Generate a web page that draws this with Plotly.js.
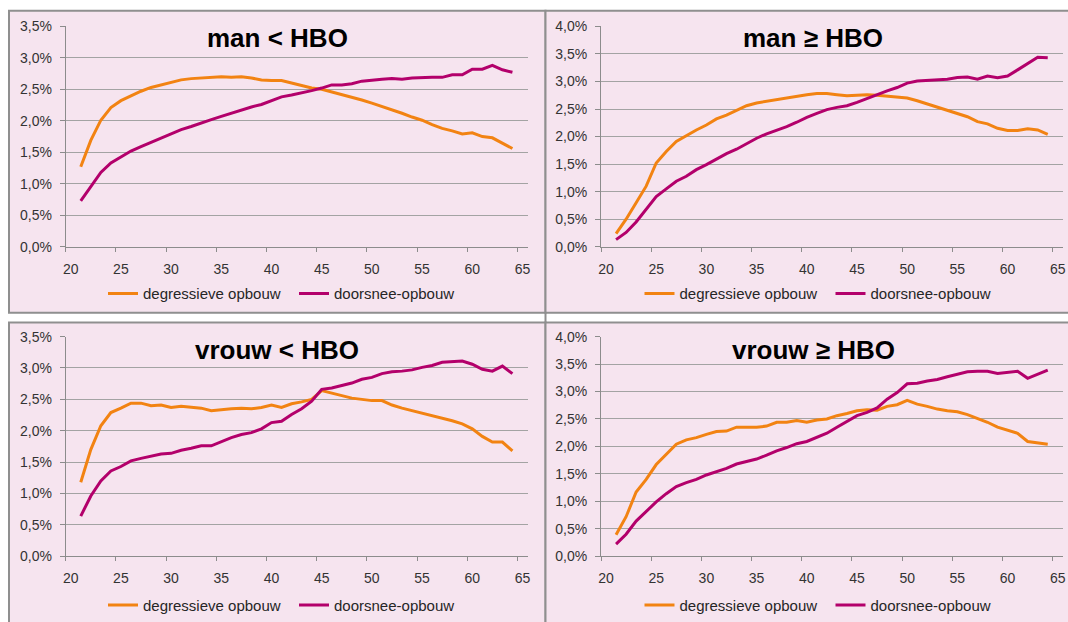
<!DOCTYPE html>
<html><head><meta charset="utf-8">
<script src="https://cdn.plot.ly/plotly-3.0.1.min.js"></script>
<style>html,body{margin:0;padding:0;background:#fff;} #chart{width:1068px;height:622px;}</style>
</head><body><div id="chart"></div>
<script>
// ---- data ----
const ages = [21,22,23,24,25,26,27,28,29,30,31,32,33,34,35,36,37,38,39,40,41,42,43,44,45,46,47,48,49,50,51,52,53,54,55,56,57,58,59,60,61,62,63,64];
const xTickLabels = ['20','25','30','35','40','45','50','55','60','65'];
const seriesNames = ['degressieve opbouw','doorsnee-opbouw'];
const panelTitles = ['man &lt; HBO','man ≥ HBO','vrouw &lt; HBO','vrouw ≥ HBO'];

const manLowDegr = [1.27,1.69,2.01,2.21,2.32,2.40,2.47,2.53,2.57,2.61, 2.65,2.67,2.68,2.70,2.70,2.69,2.70,2.68,2.65,2.64, 2.64,2.60,2.56,2.52,2.50,2.46,2.41,2.37,2.33,2.28, 2.23,2.17,2.12,2.06,2.01,1.94,1.88,1.84,1.79,1.81, 1.75,1.73,1.65,1.56];
const manLowDoor = [0.73,0.96,1.18,1.33,1.43,1.52,1.59,1.66,1.73,1.80, 1.86,1.91,1.97,2.02,2.07,2.12,2.18,2.22,2.26,2.32, 2.38,2.41,2.44,2.48,2.52,2.57,2.57,2.59,2.63,2.65, 2.66,2.67,2.66,2.68,2.69,2.69,2.69,2.73,2.73,2.82, 2.82,2.88,2.81,2.77];
const manHighDegr = [0.24,0.50,0.80,1.10,1.52,1.73,1.91,2.02,2.12,2.21, 2.32,2.39,2.48,2.56,2.61,2.64,2.68,2.70,2.73,2.76, 2.78,2.78,2.76,2.74,2.75,2.76,2.75,2.73,2.71,2.70, 2.65,2.59,2.53,2.47,2.42,2.36,2.27,2.23,2.15,2.11, 2.11,2.14,2.12,2.04];
const manHighDoor = [0.13,0.26,0.45,0.68,0.91,1.05,1.19,1.28,1.40,1.49, 1.59,1.69,1.77,1.87,1.97,2.05,2.11,2.18,2.26,2.35, 2.42,2.49,2.53,2.56,2.62,2.69,2.77,2.83,2.89,2.97, 3.01,3.02,3.03,3.04,3.07,3.08,3.04,3.10,3.07,3.10, 3.21,3.33,3.44,3.43];
const vrouwLowDegr = [1.18,1.70,2.08,2.29,2.36,2.44,2.44,2.40,2.41,2.37, 2.39,2.37,2.36,2.32,2.34,2.35,2.36,2.35,2.37,2.41, 2.37,2.43,2.46,2.50,2.64,2.60,2.56,2.52,2.50,2.48, 2.48,2.41,2.36,2.32,2.29,2.24,2.21,2.16,2.11,2.03, 1.91,1.82,1.82,1.68];
const vrouwLowDoor = [0.64,0.96,1.20,1.36,1.43,1.52,1.56,1.59,1.63,1.64, 1.69,1.72,1.76,1.76,1.83,1.89,1.94,1.97,2.03,2.13, 2.15,2.26,2.35,2.47,2.66,2.68,2.72,2.76,2.82,2.85, 2.91,2.94,2.95,2.97,3.01,3.04,3.09,3.10,3.11,3.06, 2.98,2.95,3.03,2.91];
const vrouwHighDegr = [0.39,0.72,1.17,1.40,1.67,1.85,2.04,2.12,2.16,2.22, 2.27,2.28,2.35,2.35,2.35,2.37,2.44,2.44,2.47,2.44, 2.48,2.50,2.56,2.60,2.65,2.67,2.66,2.73,2.76,2.84, 2.77,2.73,2.68,2.65,2.63,2.58,2.51,2.44,2.35,2.30, 2.24,2.09,2.07,2.04];
const vrouwHighDoor = [0.22,0.40,0.64,0.81,0.99,1.14,1.27,1.34,1.40,1.48, 1.54,1.60,1.68,1.72,1.77,1.84,1.92,1.98,2.05,2.09, 2.16,2.24,2.35,2.45,2.56,2.62,2.70,2.86,2.98,3.14, 3.15,3.19,3.22,3.27,3.32,3.36,3.37,3.37,3.33,3.35, 3.37,3.24,3.32,3.39];
const yMax = [3.5, 4.0, 3.5, 4.0];

// ---- layout helpers ----
const W = 1068, H = 622;
const px = x => x / W;
const py = y => 1 - y / H;
const ORANGE = '#f28312', MAGENTA = '#b3006b';
const FONT = 'Liberation Sans, Arial, sans-serif';

const panels = [
  {deg: manLowDegr, door: manLowDoor, box: [9, 11, 545.5, 316.7], plot: [65.7, 26.7, 527.5, 250]},
  {deg: manHighDegr, door: manHighDoor, box: [545.5, 11, 1082, 316.7], plot: [601, 26.7, 1062.8, 250]},
  {deg: vrouwLowDegr, door: vrouwLowDoor, box: [9, 326.7, 545.5, 640], plot: [65.7, 341, 527.5, 563.5]},
  {deg: vrouwHighDegr, door: vrouwHighDoor, box: [545.5, 326.7, 1082, 640], plot: [601, 341, 1062.8, 563.5]}
];

const traces = [];
const layout = {
  width: W, height: H, autosize: false,
  margin: {l: 0, r: 0, t: 0, b: 0, pad: 0},
  paper_bgcolor: '#ffffff', plot_bgcolor: 'rgba(0,0,0,0)',
  separators: ',.',
  showlegend: true,
  shapes: [], annotations: []
};

const tickVals = xTickLabels.map(v => Number(v) - 0.5);

panels.forEach((p, i) => {
  const n = i === 0 ? '' : String(i + 1);
  const legendName = 'legend' + n;
  [[p.deg, seriesNames[0], ORANGE], [p.door, seriesNames[1], MAGENTA]].forEach(([vals, name, col]) => {
    traces.push({
      type: 'scatter', mode: 'lines', x: ages, y: vals, name: name,
      xaxis: 'x' + n, yaxis: 'y' + n, legend: legendName,
      line: {color: col, width: 3}, hoverinfo: 'skip'
    });
  });
  const [bx0, by0, bx1, by1] = p.box;
  layout.shapes.push({type: 'rect', xref: 'paper', yref: 'paper', layer: 'below',
    x0: px(bx0), x1: px(bx1), y0: py(by1), y1: py(by0),
    fillcolor: '#f6e4ef', line: {color: '#8f8f8f', width: 2}});
  const [x0, y0, x1, y1] = p.plot;
  layout['xaxis' + n] = {
    domain: [px(x0), px(x1)], anchor: 'y' + n,
    range: [19.5, 65.5], tickmode: 'array', tickvals: tickVals, ticktext: xTickLabels,
    ticks: 'outside', ticklen: 4, tickcolor: '#8c8c8c', tickwidth: 1,
    ticklabelshift: 5, ticklabelstandoff: 5,
    showline: true, linecolor: '#8c8c8c', linewidth: 1,
    showgrid: false, zeroline: false, fixedrange: true,
    tickfont: {family: FONT, size: 14, color: '#333333'}
  };
  layout['yaxis' + n] = {
    domain: [py(y1), py(y0)], anchor: 'x' + n,
    range: [0, yMax[i]], tick0: 0, dtick: 0.5, tickformat: '.1f', ticksuffix: '%',
    ticks: 'outside', ticklen: 5, tickcolor: '#8c8c8c', tickwidth: 1,
    ticklabelstandoff: 5,
    showline: true, linecolor: '#8c8c8c', linewidth: 1,
    showgrid: true, gridcolor: '#a3a3a3', gridwidth: 1, zeroline: false, fixedrange: true,
    tickfont: {family: FONT, size: 14, color: '#333333'}
  };
  const cx = (bx0 + (i % 2 === 0 ? bx1 : 1080.5)) / 2;
  layout.annotations.push({
    xref: 'paper', yref: 'paper', x: px(cx), y: py(by0 + 28), xanchor: 'center', yanchor: 'middle',
    text: panelTitles[i], showarrow: false,
    font: {family: FONT, size: 26, color: '#000000', weight: 'bold'}
  });
  layout[legendName] = {
    orientation: 'h', x: px(bx0 + 94), xanchor: 'left', y: py(by0 + 286.5), yanchor: 'middle',
    bgcolor: 'rgba(0,0,0,0)', borderwidth: 0, entrywidth: 146, entrywidthmode: 'pixels',
    font: {family: FONT, size: 15, color: '#262626'}
  };
});
// divider between the two columns through the gap between rows
layout.shapes.push({type: 'line', xref: 'paper', yref: 'paper', layer: 'below',
  x0: px(545.5), x1: px(545.5), y0: py(326.7), y1: py(316.7), line: {color: '#8f8f8f', width: 2}});

Plotly.newPlot('chart', traces, layout, {displayModeBar: false, staticPlot: true});
</script>
</body></html>
